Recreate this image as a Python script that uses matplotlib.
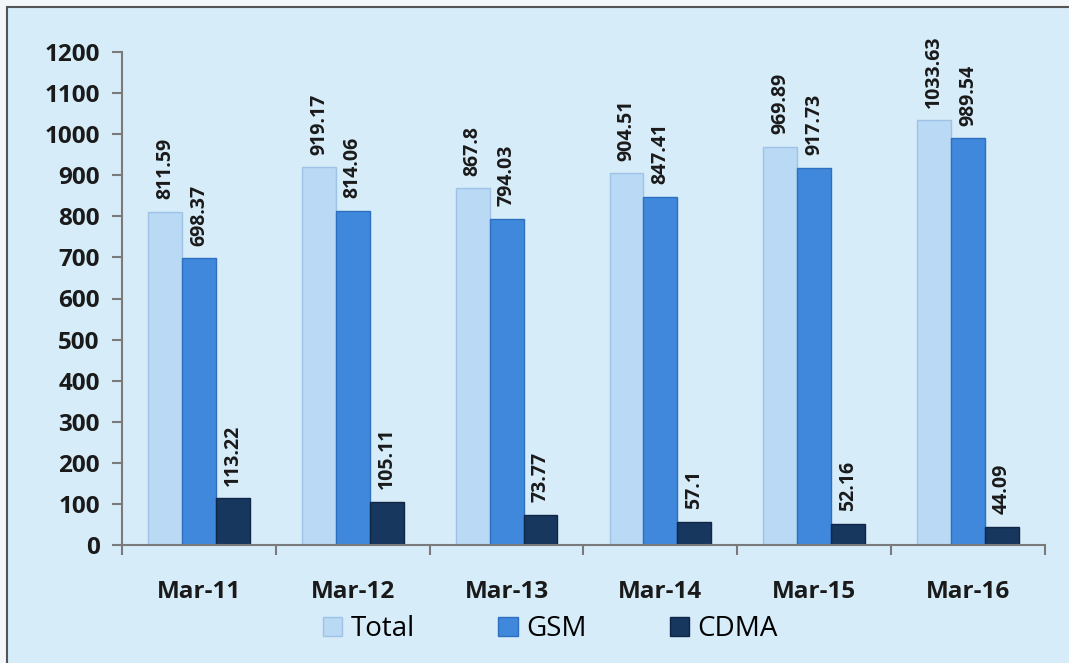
import numpy as np
import matplotlib.pyplot as plt
from matplotlib.patches import Rectangle

# Data
categories = ['Mar-11', 'Mar-12', 'Mar-13', 'Mar-14', 'Mar-15', 'Mar-16']
total = [811.59, 919.17, 867.8, 904.51, 969.89, 1033.63]
gsm = [698.37, 814.06, 794.03, 847.41, 917.73, 989.54]
cdma = [113.22, 105.11, 73.77, 57.1, 52.16, 44.09]
labels_total = ['811.59', '919.17', '867.8', '904.51', '969.89', '1033.63']
labels_gsm = ['698.37', '814.06', '794.03', '847.41', '917.73', '989.54']
labels_cdma = ['113.22', '105.11', '73.77', '57.1', '52.16', '44.09']

plt.rcParams['font.family'] = ['Open Sans', 'DejaVu Sans']

bg = '#D6ECF9'
fig = plt.figure(figsize=(10.69, 6.63), dpi=100, facecolor='#F4F7FA')
# framed panel behind everything
fig.patches.append(Rectangle((7 / 1069, -0.01), 1.0, 1 - 7 / 663 + 0.01,
                             transform=fig.transFigure, facecolor=bg,
                             edgecolor='#555555', linewidth=1.5, zorder=-10))

ax = fig.add_axes([122 / 1069, 1 - 545 / 663, (1045 - 122) / 1069, (545 - 52) / 663])
ax.set_facecolor('none')

x = np.arange(len(categories))
w = 0.22
series = [
    (total, labels_total, '#B9D9F4', '#9FC3E6', 'Total', -w),
    (gsm, labels_gsm, '#3F88DB', '#2E6FBF', 'GSM', 0),
    (cdma, labels_cdma, '#17375F', '#0F2747', 'CDMA', w),
]
for vals, labs, fc, ec, name, off in series:
    ax.bar(x + off, vals, width=w, color=fc, edgecolor=ec, linewidth=1.0, label=name, zorder=2)
    for xi, v, t in zip(x, vals, labs):
        ax.annotate(t, (xi + off, v), xytext=(0, 9), textcoords='offset points',
                    rotation=90, ha='center', va='bottom', fontsize=14,
                    fontweight='bold', color='#1a1a1a')

ax.set_xlim(-0.5, len(categories) - 0.5)
ax.set_ylim(0, 1200)
ax.set_yticks(np.arange(0, 1201, 100))
ax.set_xticks(x)
ax.set_xticklabels(categories)
ax.set_xticks(np.arange(-0.5, len(categories), 1), minor=True)

for s in ['top', 'right']:
    ax.spines[s].set_visible(False)
for s in ['left', 'bottom']:
    ax.spines[s].set_color('#7a7a7a')
    ax.spines[s].set_linewidth(1.5)

ax.tick_params(axis='y', length=7, width=1.5, color='#7a7a7a', labelsize=17.5,
               labelcolor='#1a1a1a', pad=9)
ax.tick_params(axis='x', which='major', length=0, labelsize=17.5, labelcolor='#1a1a1a', pad=25)
ax.tick_params(axis='x', which='minor', length=7, width=1.5, color='#7a7a7a')
for lab in ax.get_yticklabels() + ax.get_xticklabels():
    lab.set_fontweight('bold')

leg = fig.legend(loc='center', bbox_to_anchor=(0.515, 1 - 629 / 663), ncol=3,
                 frameon=False, fontsize=20, handlelength=0.7, handleheight=0.7,
                 handletextpad=0.3, columnspacing=3.0)

fig.savefig('out.png', dpi=100, facecolor=fig.get_facecolor())
